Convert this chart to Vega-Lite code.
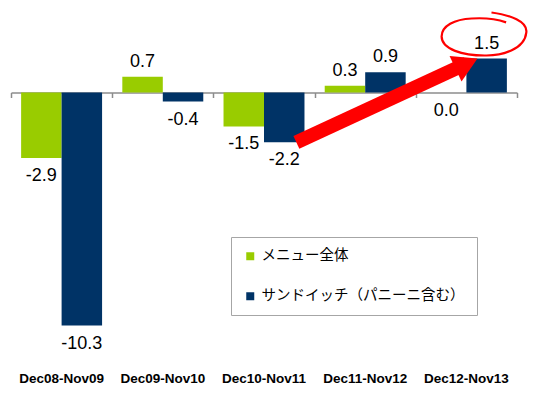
{
  "$schema": "https://vega.github.io/schema/vega-lite/v6.json",
  "width": 506,
  "height": 362,
  "padding": {"left": 10, "top": 2, "right": 0, "bottom": 0},
  "autosize": {"type": "pad"},
  "background": "white",
  "config": {
    "view": {"stroke": null},
    "font": "Liberation Sans",
    "locale": {"number": {"decimal": ".", "thousands": ",", "grouping": [3], "currency": ["$", ""], "minus": "-"}}
  },
  "datasets": {
    "bars": [
      {"period": "Dec08-Nov09", "series": "メニュー全体", "value": -2.9},
      {"period": "Dec08-Nov09", "series": "サンドイッチ（パニーニ含む）", "value": -10.3},
      {"period": "Dec09-Nov10", "series": "メニュー全体", "value": 0.7},
      {"period": "Dec09-Nov10", "series": "サンドイッチ（パニーニ含む）", "value": -0.4},
      {"period": "Dec10-Nov11", "series": "メニュー全体", "value": -1.5},
      {"period": "Dec10-Nov11", "series": "サンドイッチ（パニーニ含む）", "value": -2.2},
      {"period": "Dec11-Nov12", "series": "メニュー全体", "value": 0.3},
      {"period": "Dec11-Nov12", "series": "サンドイッチ（パニーニ含む）", "value": 0.9},
      {"period": "Dec12-Nov13", "series": "メニュー全体", "value": 0.0},
      {"period": "Dec12-Nov13", "series": "サンドイッチ（パニーニ含む）", "value": 1.5}
    ],
    "arrow": [
      {"from": "Dec10-Nov11", "fromValue": -2.2, "to": "Dec12-Nov13", "toValue": 1.5}
    ]
  },
  "layer": [
    {
      "data": {"name": "bars"},
      "mark": {"type": "bar"},
      "encoding": {
        "x": {
          "field": "period", "type": "nominal",
          "scale": {"domain": ["Dec08-Nov09", "Dec09-Nov10", "Dec10-Nov11", "Dec11-Nov12", "Dec12-Nov13"], "paddingInner": 0, "paddingOuter": 0},
          "axis": {"orient": "bottom", "title": null, "domain": false, "ticks": false, "grid": false, "labelAngle": 0, "labelFont": "Liberation Sans", "labelFontWeight": "bold", "labelFontSize": 13.5, "labelColor": "#000000", "labelPadding": 7}
        },
        "xOffset": {
          "field": "series", "type": "nominal",
          "scale": {"domain": ["メニュー全体", "サンドイッチ（パニーニ含む）"], "paddingInner": 0, "paddingOuter": 0.25}
        },
        "y": {"field": "value", "type": "quantitative", "scale": {"domain": [-12, 4], "nice": false}, "axis": null},
        "color": {
          "field": "series", "type": "nominal",
          "scale": {"domain": ["メニュー全体", "サンドイッチ（パニーニ含む）"], "range": ["#99CC00", "#003366"]},
          "legend": {"title": null, "orient": "none", "legendX": 220, "legendY": 235, "direction": "vertical", "strokeColor": "#a6a6a6", "fillColor": "white", "padding": 12, "symbolType": "square", "symbolSize": 64, "symbolStrokeWidth": 0, "labelFont": "Noto Sans CJK JP", "labelFontSize": 14.5, "labelColor": "#000000", "labelOffset": 4, "labelLimit": 400, "rowPadding": 25}
        }
      }
    },
    {
      "data": {"name": "bars"},
      "transform": [{"filter": "datum.value > 0"}],
      "mark": {"type": "text", "baseline": "alphabetic", "align": "center", "dy": -10, "fontSize": 18, "font": "Liberation Sans", "color": "#000000"},
      "encoding": {
        "x": {
          "field": "period", "type": "nominal",
          "axis": {"orient": "bottom", "offset": -271.5, "title": null, "labels": false, "grid": false, "domain": true, "domainColor": "#8c8c8c", "domainWidth": 1.5, "ticks": true, "tickBand": "extent", "tickExtra": true, "tickColor": "#8c8c8c", "tickWidth": 1.5, "tickSize": 5}
        },
        "xOffset": {"field": "series", "type": "nominal"},
        "y": {"field": "value", "type": "quantitative", "axis": null},
        "text": {"field": "value", "type": "quantitative", "format": ".1f"}
      }
    },
    {
      "data": {"name": "bars"},
      "transform": [{"filter": "datum.value <= 0"}],
      "mark": {"type": "text", "baseline": "alphabetic", "align": "center", "dy": 23, "fontSize": 18, "font": "Liberation Sans", "color": "#000000"},
      "encoding": {
        "x": {"field": "period", "type": "nominal", "axis": null},
        "xOffset": {"field": "series", "type": "nominal"},
        "y": {"field": "value", "type": "quantitative", "axis": null},
        "text": {"field": "value", "type": "quantitative", "format": ".1f"}
      }
    },
    {
      "data": {"name": "arrow"},
      "mark": {"type": "rule", "color": "#ff0000", "strokeWidth": 14, "strokeCap": "butt", "x2Offset": -11, "y2Offset": 5},
      "encoding": {
        "x": {"field": "from", "type": "nominal", "bandPosition": 0.82, "axis": null},
        "x2": {"field": "to", "bandPosition": 0.61},
        "y": {"field": "fromValue", "type": "quantitative", "axis": null},
        "y2": {"field": "toValue"}
      }
    },
    {
      "data": {"name": "arrow"},
      "mark": {"type": "point", "shape": "triangle-right", "filled": true, "color": "#ff0000", "opacity": 1, "size": 784, "angle": -25.3, "xOffset": -11, "yOffset": 5, "strokeWidth": 0},
      "encoding": {
        "x": {"field": "to", "type": "nominal", "bandPosition": 0.61, "axis": null},
        "y": {"field": "toValue", "type": "quantitative", "axis": null}
      }
    },
    {
      "data": {"name": "arrow"},
      "mark": {"type": "point", "shape": "M 0.16 -0.56 C 0.6 -0.5 1.0 -0.35 0.97 -0.1 C 0.93 0.3 0.4 0.45 0 0.44 C -0.5 0.44 -1 0.3 -1 0 C -1 -0.25 -0.7 -0.4 -0.3 -0.42 C 0 -0.44 0.3 -0.4 0.5 -0.33", "filled": false, "stroke": "#ff0000", "opacity": 1, "strokeWidth": 2.2, "size": 7396, "yOffset": -22},
      "encoding": {
        "x": {"field": "to", "type": "nominal", "bandPosition": 0.68, "axis": null},
        "y": {"field": "toValue", "type": "quantitative", "axis": null}
      }
    }
  ],
  "resolve": {"axis": {"x": "independent"}}
}
